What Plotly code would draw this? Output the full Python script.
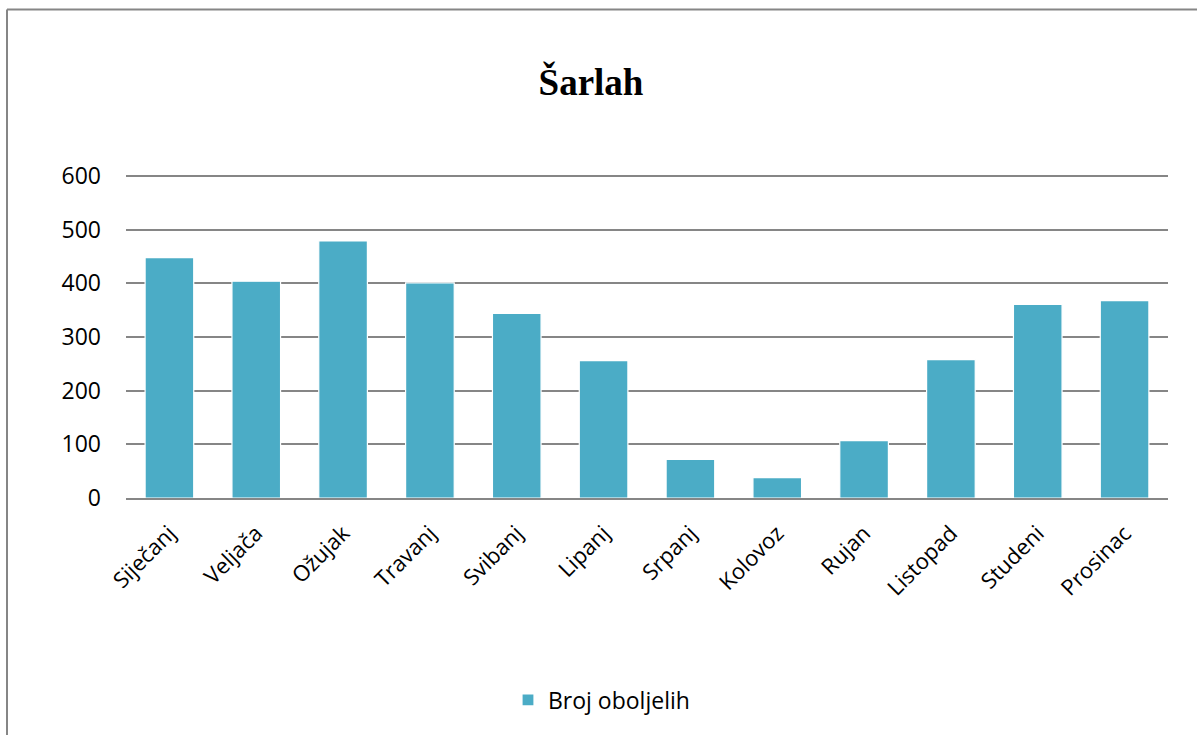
import plotly.graph_objects as go

months = ["Siječanj", "Veljača", "Ožujak", "Travanj", "Svibanj", "Lipanj",
          "Srpanj", "Kolovoz", "Rujan", "Listopad", "Studeni", "Prosinac"]
cases = [448, 404, 479, 401, 344, 256, 72, 38, 107, 258, 361, 368]
series_name = "Broj oboljelih"
title_text = "Šarlah"
y_ticks = [0, 100, 200, 300, 400, 500, 600]

W, H = 1197, 735
L, R, B = 126, 1168, 498          # plot area pixels (left, right, bottom)
PX_PER_UNIT = (498 - 176) / 600.0  # 600 gridline at y=176
Y_MAX = 615
T = B - Y_MAX * PX_PER_UNIT

fig = go.Figure()
fig.add_trace(go.Bar(
    x=months, y=cases, name=series_name,
    marker=dict(color="#4BACC6", line=dict(color="white", width=1.2)),
    showlegend=True,
))

def px_x(p):
    return (p - L) / (R - L)

def px_y(p):
    return (B - p) / (B - T)

# outer frame (top and left edges visible)
fig.add_shape(type="line", xref="paper", yref="paper",
              x0=px_x(7), x1=px_x(1200), y0=px_y(9.5), y1=px_y(9.5),
              line=dict(color="#868686", width=2))
fig.add_shape(type="line", xref="paper", yref="paper",
              x0=px_x(7), x1=px_x(7), y0=px_y(9.5), y1=px_y(740),
              line=dict(color="#868686", width=2))

fig.update_layout(
    width=W, height=H,
    margin=dict(l=L, r=W - R, t=T, b=H - B),
    paper_bgcolor="white", plot_bgcolor="white",
    bargap=0.44,
    title=dict(text="<b>" + title_text + "</b>", x=591 / W, xanchor="center",
               y=1 - 82 / H, yanchor="middle",
               font=dict(family="Liberation Serif", size=37, color="black")),
    xaxis=dict(showgrid=False, tickangle=-45, showline=True,
               linecolor="#868686", linewidth=1.5,
               tickfont=dict(family="Open Sans", size=22, color="black"),
               ticks="", ticklabelstandoff=12),
    yaxis=dict(range=[0, Y_MAX], tickvals=y_ticks, showgrid=True,
               gridcolor="#868686", gridwidth=1.5, zeroline=False,
               showline=False, ticks="", ticklabelstandoff=24,
               tickfont=dict(family="Open Sans", size=23, color="black")),
    legend=dict(orientation="h", x=px_x(508), xanchor="left",
                y=px_y(700), yanchor="middle",
                font=dict(family="Open Sans", size=23, color="black")),
)

fig.write_html("out.html", post_script="document.body.style.margin='0';",
               config={"displayModeBar": False})
